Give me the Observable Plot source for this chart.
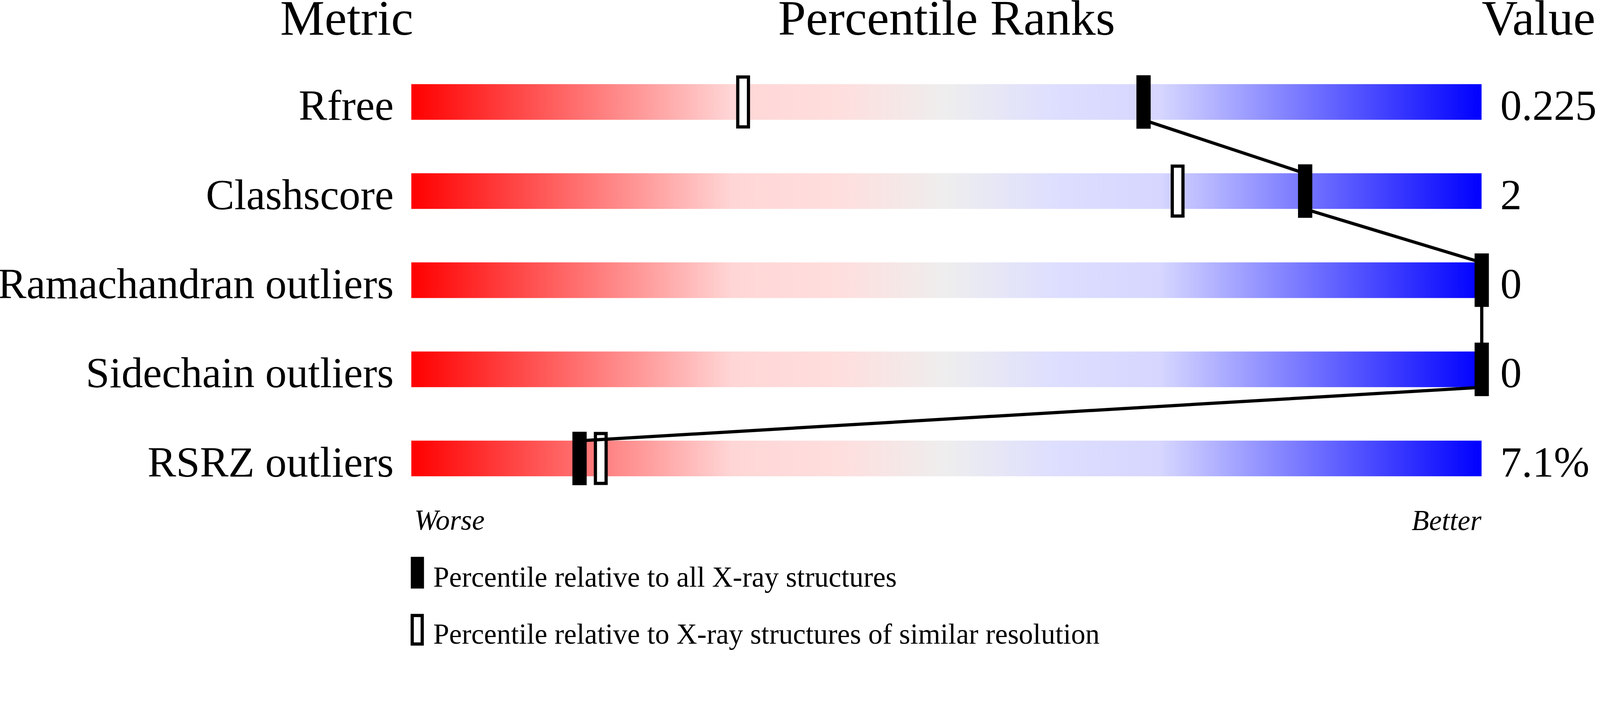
<!DOCTYPE html>
<html>
<head>
<meta charset="utf-8">
<script src="https://cdn.jsdelivr.net/npm/d3@7"></script>
<script src="https://cdn.jsdelivr.net/npm/@observablehq/plot@0.6"></script>
<style>
  html, body { margin: 0; padding: 0; background: #fff; overflow: hidden; }
  svg text { font-family: "Liberation Serif", "Times New Roman", Times, serif; }
</style>
</head>
<body>
<div id="chart"></div>
<script>
// ---- data ----
const metrics = ["Rfree", "Clashscore", "Ramachandran outliers", "Sidechain outliers", "RSRZ outliers"];
const values = ["0.225", "2", "0", "0", "7.1%"];
const pctAll = [68.4, 83.5, 100, 100, 15.7];        // percentile relative to all X-ray structures
const pctSimilar = [31.0, 71.6, 100, 100, 17.7];     // percentile relative to similar resolution
const headers = ["Metric", "Percentile Ranks", "Value"];
const ends = ["Worse", "Better"];
const legendLabels = ["Percentile relative to all X-ray structures",
                      "Percentile relative to X-ray structures of similar resolution"];
const gradientStops = [
  [0, "#ff0000"], [0.3, "#ffd6d6"], [0.4, "#ffdede"], [0.5, "#eeeeee"],
  [0.6, "#dedeff"], [0.7, "#d6d6ff"], [1, "#0000ff"]
];

// ---- derived tables ----
const rows = metrics.map((m, i) => ({i, metric: m, value: values[i], all: pctAll[i], sim: pctSimilar[i]}));
const path = rows.flatMap(r => [{x: r.all, y: r.i - 0.2}, {x: r.all, y: r.i + 0.2}]);
const legend = legendLabels.map((t, k) => ({k, text: t, yc: k === 0 ? 5.282 : 5.922, yb: k === 0 ? 5.436 : 6.076}));

const font = "Liberation Serif";
const T = {fontFamily: font, fill: "black", lineAnchor: "bottom"};

const plot = Plot.plot({
  width: 4485,
  height: 1824,
  margin: 0,
  x: {domain: [0, 100], range: [1153, 4153], axis: null},
  y: {domain: [-1.144, 6.152], range: [0, 1824], axis: null},
  style: {background: "white", color: "black", overflow: "visible"},
  marks: [
    // gradient bars
    Plot.rect(rows, {x1: 0, x2: 100, y1: d => d.i - 0.2, y2: d => d.i + 0.2, fill: "url(#pr-grad)"}),
    // open markers (similar resolution)
    Plot.rect(rows, {x1: "sim", x2: "sim", y1: d => d.i - 0.28, y2: d => d.i + 0.28,
      insetLeft: -15, insetRight: -15, fill: "white", stroke: "black", strokeWidth: 9}),
    // connecting line
    Plot.line(path, {x: "x", y: "y", stroke: "black", strokeWidth: 9}),
    // filled markers (all structures)
    Plot.ruleX(rows, {x: "all", y1: d => d.i - 0.3, y2: d => d.i + 0.3, stroke: "black", strokeWidth: 40}),
    // metric labels
    Plot.text(rows, {...T, x: 0, y: d => d.i + 0.2, text: "metric", textAnchor: "end", dx: -50, fontSize: 120}),
    // values
    Plot.text(rows, {...T, x: 100, y: d => d.i + 0.2, text: "value", textAnchor: "start", dx: 52, fontSize: 120}),
    // headers
    Plot.text([headers[0]], {...T, x: 0, y: -0.756, text: d => d, textAnchor: "end", dx: 5, fontSize: 140}),
    Plot.text([headers[1]], {...T, x: 50, y: -0.756, text: d => d, textAnchor: "middle", fontSize: 140}),
    Plot.text([headers[2]], {...T, x: 100, y: -0.756, text: d => d, textAnchor: "start", fontSize: 140}),
    // worse / better
    Plot.text([ends[0]], {...T, x: 0, y: 4.796, text: d => d, textAnchor: "start", dx: 8, fontSize: 80, fontStyle: "italic"}),
    Plot.text([ends[1]], {...T, x: 100, y: 4.8, text: d => d, textAnchor: "end", dx: -1, fontSize: 80, fontStyle: "italic"}),
    // legend markers
    Plot.ruleX(legend.filter(d => d.k === 0), {x: 0, y1: d => d.yc - 0.178, y2: d => d.yc + 0.178, dx: 16.5, stroke: "black", strokeWidth: 37}),
    Plot.rect(legend.filter(d => d.k === 1), {x1: 0, x2: 0, y1: d => d.yc - 0.16, y2: d => d.yc + 0.16, dx: 16.5,
      insetLeft: -14, insetRight: -14, fill: "white", stroke: "black", strokeWidth: 9}),
    // legend text
    Plot.text(legend, {...T, x: 0, y: "yb", text: "text", textAnchor: "start", dx: 61, fontSize: 80})
  ]
});

// gradient definition
const svg = plot.tagName.toLowerCase() === "svg" ? plot : plot.querySelector("svg");
const defs = d3.select(svg).insert("defs", ":first-child");
const grad = defs.append("linearGradient").attr("id", "pr-grad")
  .attr("x1", "0").attr("x2", "1").attr("y1", "0").attr("y2", "0");
gradientStops.forEach(([o, c]) => grad.append("stop").attr("offset", o).attr("stop-color", c));

document.getElementById("chart").appendChild(plot);
</script>
</body>
</html>
